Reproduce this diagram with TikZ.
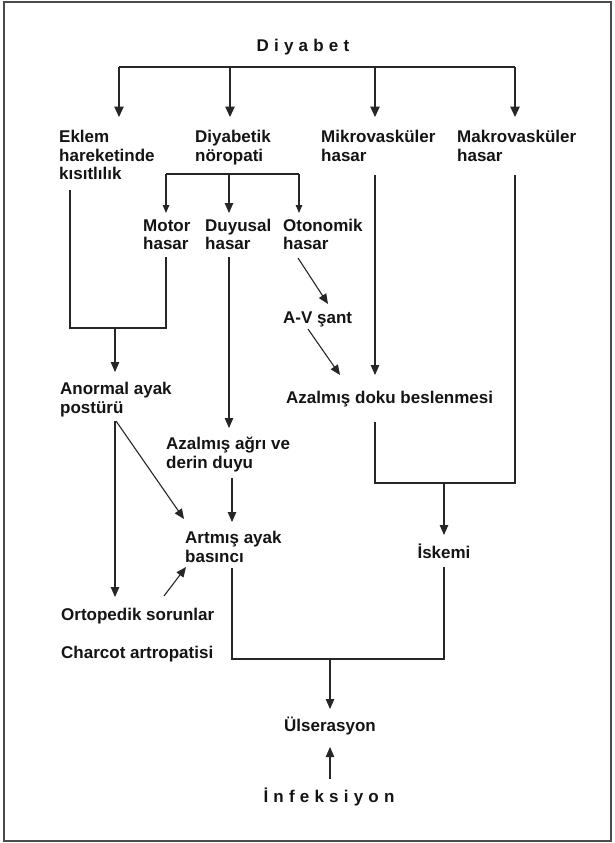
\documentclass[tikz,border=0pt]{standalone}
\usepackage{fontspec}
\setmainfont{Liberation Sans}
\usetikzlibrary{arrows.meta}
\newcommand{\lsp}{\hspace{5.2pt}}
\newcommand{\twol}[1]{\begin{tabular}[t]{@{}l@{}}#1\end{tabular}}
\begin{document}
\begin{tikzpicture}[x=1pt,y=-1pt,
  lbl/.style={anchor=base west, inner sep=0pt, font=\fontsize{17}{18.5}\selectfont\bfseries, text=black!92},
  clbl/.style={lbl, anchor=base},
  conn/.style={line width=1.1pt, draw=black!85},
  arr/.style={conn, -{Triangle[length=10pt,width=8.5pt]}},
  bigarr/.style={conn, -{Triangle[length=10.5pt,width=9.5pt]}},
  smallarr/.style={conn, -{Triangle[length=8pt,width=6.5pt]}}]
\useasboundingbox (0,0) rectangle (615,843);
\draw[line width=1.5pt, draw=black!70] (4,2) rectangle (611,841);

% nodes
\node[clbl] (diyabet) at (303,51.5) {D\lsp i\lsp y\lsp a\lsp b\lsp e\lsp t};
\node[lbl] (eklem) at (59,142.7) {\twol{Eklem\\hareketinde\\kısıtlılık}};
\node[lbl] (noro) at (195,142.7) {\twol{Diyabetik\\nöropati}};
\node[lbl] (mikro) at (321,142.7) {\twol{Mikrovasküler\\hasar}};
\node[lbl] (makro) at (457,142.7) {\twol{Makrovasküler\\hasar}};
\node[lbl] (motor) at (143,231) {\twol{Motor\\hasar}};
\node[lbl] (duyusal) at (205,231) {\twol{Duyusal\\hasar}};
\node[lbl] (otonom) at (283,231) {\twol{Otonomik\\hasar}};
\node[lbl] (avsant) at (283,323.5) {A-V şant};
\node[lbl] (anormal) at (60,394.5) {\twol{Anormal ayak\\postürü}};
\node[lbl] (doku) at (286,403.5) {Azalmış doku beslenmesi};
\node[lbl] (agri) at (166,449.5) {\twol{Azalmış ağrı ve\\derin duyu}};
\node[lbl] (artmis) at (185,543.5) {\twol{Artmış ayak\\basıncı}};
\node[clbl] (iskemi) at (444,558.5) {İskemi};
\node[lbl] (orto) at (61,620.5) {Ortopedik sorunlar};
\node[lbl] (charcot) at (61,658) {Charcot artropatisi};
\node[clbl] (ulser) at (330,731) {Ülserasyon};
\node[clbl] (infek) at (329,802) {İ\lsp n\lsp f\lsp e\lsp k\lsp s\lsp i\lsp y\lsp o\lsp n};

% junction coordinates
\coordinate (barL) at (119,67);
\coordinate (barR) at (515,67);
\coordinate (subL) at (166,174);
\coordinate (subR) at (299,174);
\coordinate (jA) at (70,328);
\coordinate (jB) at (166,328);
\coordinate (jC) at (375,483);
\coordinate (jD) at (515,483);
\coordinate (jE) at (232,659);
\coordinate (jF) at (444,659);

% Diyabet bar
\draw[conn] (barL) -- (barR);
\draw[bigarr] (barL) -- (119,117);
\draw[bigarr] (230,67) -- (230,117);
\draw[bigarr] (375,67) -- (375,117);
\draw[bigarr] (barR) -- (515,117);

% neuropathy sub-bar
\draw[conn] (subL) -- (subR);
\draw[smallarr] (subL) -- (166,213);
\draw[arr] (229,174) -- (229,213);
\draw[smallarr] (subR) -- (299,213);

% Eklem + Motor -> Anormal
\draw[conn] (70,190) -- (jA) -- (jB) -- (166,257);
\draw[arr] (115,328) -- (115,372);

% Duyusal -> agri
\draw[arr] (229,257) -- (229,428);

% Otonomik -> A-V -> doku
\draw[arr] (298,258) -- (328,304);
\draw[arr] (308,329) -- (340,375);

% Mikro -> doku
\draw[arr] (375,175) -- (375,375);

% doku + makro -> iskemi
\draw[conn] (515,175) -- (jD) -- (jC) -- (375,422);
\draw[arr] (444,483) -- (444,535);

% Anormal -> Ortopedik, Artmis
\draw[arr] (115,421) -- (115,597);
\draw[arr] (116,421) -- (184,519);

% agri -> artmis
\draw[arr] (232,478) -- (232,522);

% Ortopedik -> artmis
\draw[arr] (164,596) -- (186,567);

% artmis + iskemi -> ulser
\draw[conn] (232,568) -- (jE) -- (jF) -- (444,567);
\draw[arr] (330,659) -- (330,709);

% infeksiyon -> ulser
\draw[arr] (330,779) -- (330,747);
\end{tikzpicture}
\end{document}
